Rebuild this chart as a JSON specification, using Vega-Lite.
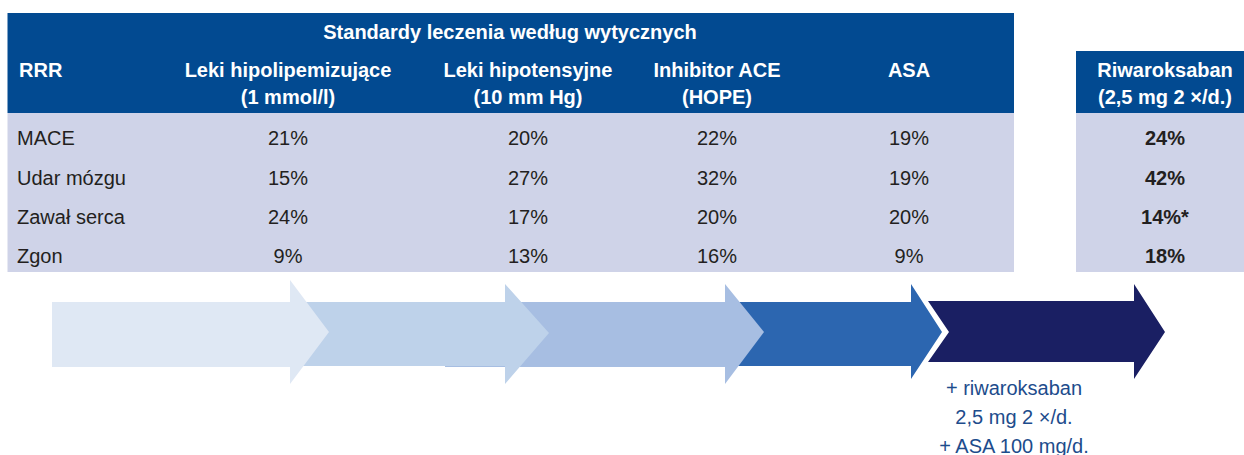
{
  "$schema": "https://vega.github.io/schema/vega-lite/v6.json",
  "width": 1244,
  "height": 455,
  "padding": 0,
  "autosize": {"type": "none"},
  "background": "#ffffff",
  "config": {"view": {"stroke": null}, "text": {"font": "Liberation Sans", "fontSize": 20}},
  "datasets": {
    "blocks": [
      {"section": "standard", "part": "header", "col": -0.5, "colEnd": 4.5, "line": -0.5, "lineEnd": 2.5},
      {"section": "standard", "part": "body", "col": -0.5, "colEnd": 4.5, "line": 2.5, "lineEnd": 6.5},
      {"section": "riwaroksaban", "part": "header", "col": 4.6, "colEnd": 5.4, "line": 0.5, "lineEnd": 2.5},
      {"section": "riwaroksaban", "part": "body", "col": 4.6, "colEnd": 5.4, "line": 2.5, "lineEnd": 6.5}
    ],
    "title": [
      {"text": "Standardy leczenia według wytycznych", "col": 2, "line": 0}
    ],
    "headers": [
      {"text": "Leki hipolipemizujące", "col": 1, "line": 1},
      {"text": "(1 mmol/l)", "col": 1, "line": 2},
      {"text": "Leki hipotensyjne", "col": 2, "line": 1},
      {"text": "(10 mm Hg)", "col": 2, "line": 2},
      {"text": "Inhibitor ACE", "col": 3, "line": 1},
      {"text": "(HOPE)", "col": 3, "line": 2},
      {"text": "ASA", "col": 4, "line": 1},
      {"text": "Riwaroksaban", "col": 5, "line": 1},
      {"text": "(2,5 mg 2 ×/d.)", "col": 5, "line": 2}
    ],
    "rrr": [
      {"text": "RRR", "col": 0, "line": 1}
    ],
    "outcomes": [
      {"outcome": "MACE", "col": 0, "line": 3},
      {"outcome": "Udar mózgu", "col": 0, "line": 4},
      {"outcome": "Zawał serca", "col": 0, "line": 5},
      {"outcome": "Zgon", "col": 0, "line": 6}
    ],
    "cells": [
      {"outcome": "MACE", "therapy": "Leki hipolipemizujące", "col": 1, "line": 3, "rrr": "21%"},
      {"outcome": "MACE", "therapy": "Leki hipotensyjne", "col": 2, "line": 3, "rrr": "20%"},
      {"outcome": "MACE", "therapy": "Inhibitor ACE", "col": 3, "line": 3, "rrr": "22%"},
      {"outcome": "MACE", "therapy": "ASA", "col": 4, "line": 3, "rrr": "19%"},
      {"outcome": "Udar mózgu", "therapy": "Leki hipolipemizujące", "col": 1, "line": 4, "rrr": "15%"},
      {"outcome": "Udar mózgu", "therapy": "Leki hipotensyjne", "col": 2, "line": 4, "rrr": "27%"},
      {"outcome": "Udar mózgu", "therapy": "Inhibitor ACE", "col": 3, "line": 4, "rrr": "32%"},
      {"outcome": "Udar mózgu", "therapy": "ASA", "col": 4, "line": 4, "rrr": "19%"},
      {"outcome": "Zawał serca", "therapy": "Leki hipolipemizujące", "col": 1, "line": 5, "rrr": "24%"},
      {"outcome": "Zawał serca", "therapy": "Leki hipotensyjne", "col": 2, "line": 5, "rrr": "17%"},
      {"outcome": "Zawał serca", "therapy": "Inhibitor ACE", "col": 3, "line": 5, "rrr": "20%"},
      {"outcome": "Zawał serca", "therapy": "ASA", "col": 4, "line": 5, "rrr": "20%"},
      {"outcome": "Zgon", "therapy": "Leki hipolipemizujące", "col": 1, "line": 6, "rrr": "9%"},
      {"outcome": "Zgon", "therapy": "Leki hipotensyjne", "col": 2, "line": 6, "rrr": "13%"},
      {"outcome": "Zgon", "therapy": "Inhibitor ACE", "col": 3, "line": 6, "rrr": "16%"},
      {"outcome": "Zgon", "therapy": "ASA", "col": 4, "line": 6, "rrr": "9%"}
    ],
    "riwa": [
      {"outcome": "MACE", "therapy": "Riwaroksaban", "col": 5, "line": 3, "rrr": "24%"},
      {"outcome": "Udar mózgu", "therapy": "Riwaroksaban", "col": 5, "line": 4, "rrr": "42%"},
      {"outcome": "Zawał serca", "therapy": "Riwaroksaban", "col": 5, "line": 5, "rrr": "14%*"},
      {"outcome": "Zgon", "therapy": "Riwaroksaban", "col": 5, "line": 6, "rrr": "18%"}
    ],
    "arrows": [
      {"stage": "Riwaroksaban", "col": 5, "line": 8},
      {"stage": "ASA", "col": 4, "line": 8},
      {"stage": "Inhibitor ACE", "col": 3, "line": 8},
      {"stage": "Leki hipotensyjne", "col": 2, "line": 8},
      {"stage": "Leki hipolipemizujące", "col": 1, "line": 8}
    ],
    "notes": [
      {"text": "+ riwaroksaban", "col": 4.5, "line": 9},
      {"text": "2,5 mg 2 ×/d.", "col": 4.5, "line": 10},
      {"text": "+ ASA 100 mg/d.", "col": 4.5, "line": 11}
    ]
  },
  "encoding": {
    "x": {
      "field": "col",
      "type": "quantitative",
      "axis": null,
      "scale": {
        "domain": [-0.5, 0, 1, 2, 3, 4, 4.5, 4.6, 5, 5.4],
        "range": [7.5, 17, 288, 528, 717, 909, 1014, 1076, 1165, 1244],
        "zero": false,
        "nice": false,
        "clamp": false
      }
    },
    "y": {
      "field": "line",
      "type": "quantitative",
      "axis": null,
      "scale": {
        "domain": [-0.5, 0, 0.5, 1, 2, 2.5, 3, 4, 5, 6, 6.5, 8, 9, 10, 11],
        "range": [13, 33, 51, 70.5, 98, 113, 139, 178.5, 217.5, 256.5, 272, 332, 388.5, 418, 447],
        "zero": false,
        "nice": false,
        "clamp": false
      }
    }
  },
  "resolve": {"scale": {"fill": "independent", "shape": "independent"}},
  "layer": [
    {
      "data": {"name": "blocks"},
      "mark": {"type": "rect", "strokeWidth": 0},
      "encoding": {
        "x2": {"field": "colEnd"},
        "y2": {"field": "lineEnd"},
        "fill": {
          "field": "part",
          "type": "nominal",
          "scale": {"domain": ["header", "body"], "range": ["#024a91", "#cfd3e8"]},
          "legend": null
        }
      }
    },
    {
      "data": {"name": "arrows"},
      "mark": {"type": "point", "filled": true, "size": 4, "opacity": 1, "strokeWidth": 0},
      "encoding": {
        "shape": {
          "field": "stage",
          "type": "nominal",
          "scale": {
            "domain": ["Leki hipolipemizujące", "Leki hipotensyjne", "Inhibitor ACE", "ASA", "Riwaroksaban"],
            "range": [
              "M-236,-30L2,-30L2,-52L41,0L2,52L2,35L-236,35Z",
              "M-228,-30L-23,-30L-23,-48L21,1L-23,52L-23,34L-228,34Z",
              "M-272,-30L8,-30L8,-48L47,0L8,52L8,35L-272,35Z",
              "M-258,-30L2,-30L2,-48L33,0L2,47L2,34L-258,34Z",
              "M-237,-31L-31,-31L-31,-48L0,0L-31,47L-31,30L-237,30L-216,0Z"
            ]
          },
          "legend": null
        },
        "fill": {
          "field": "stage",
          "type": "nominal",
          "scale": {
            "domain": ["Leki hipolipemizujące", "Leki hipotensyjne", "Inhibitor ACE", "ASA", "Riwaroksaban"],
            "range": ["#dfe8f4", "#bed2ea", "#a7bee2", "#2c66b0", "#1a1f63"]
          },
          "legend": null
        }
      }
    },
    {
      "data": {"name": "title"},
      "mark": {"type": "text", "fontWeight": "bold", "color": "#ffffff", "align": "center", "baseline": "middle", "dx": -18},
      "encoding": {"text": {"field": "text"}}
    },
    {
      "data": {"name": "headers"},
      "mark": {"type": "text", "fontWeight": "bold", "color": "#ffffff", "align": "center", "baseline": "middle"},
      "encoding": {"text": {"field": "text"}}
    },
    {
      "data": {"name": "rrr"},
      "mark": {"type": "text", "fontWeight": "bold", "color": "#ffffff", "align": "left", "baseline": "middle", "dx": 2},
      "encoding": {"text": {"field": "text"}}
    },
    {
      "data": {"name": "outcomes"},
      "mark": {"type": "text", "color": "#231f20", "align": "left", "baseline": "middle"},
      "encoding": {"text": {"field": "outcome"}}
    },
    {
      "data": {"name": "cells"},
      "mark": {"type": "text", "color": "#231f20", "align": "center", "baseline": "middle"},
      "encoding": {"text": {"field": "rrr"}}
    },
    {
      "data": {"name": "riwa"},
      "mark": {"type": "text", "fontWeight": "bold", "color": "#231f20", "align": "center", "baseline": "middle"},
      "encoding": {"text": {"field": "rrr"}}
    },
    {
      "data": {"name": "notes"},
      "mark": {"type": "text", "color": "#1d4c8c", "align": "center", "baseline": "middle"},
      "encoding": {"text": {"field": "text"}}
    }
  ]
}
